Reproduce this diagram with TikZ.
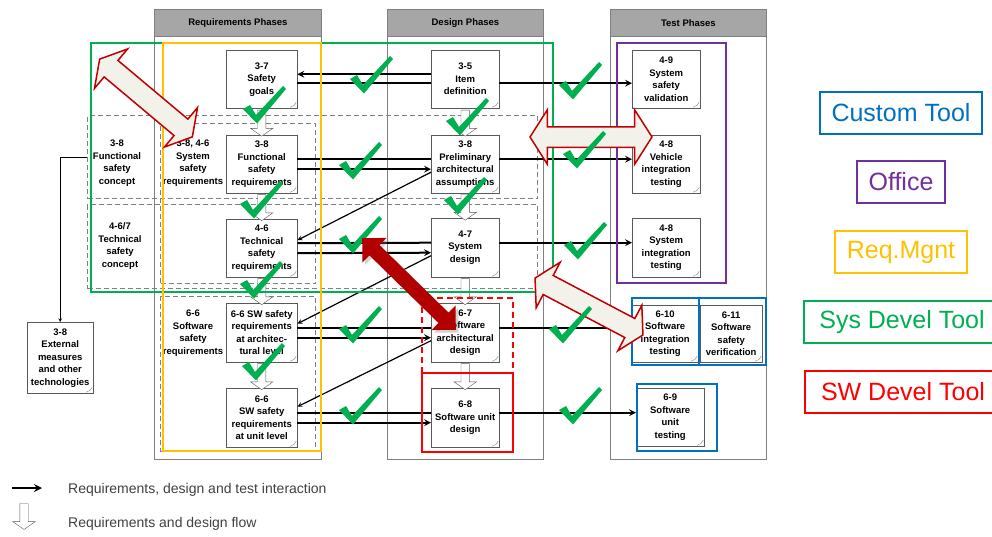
\documentclass[tikz,border=0pt]{standalone}
\usepackage{fontspec}
\setmainfont{Liberation Sans}
\usepackage{tikz}
\usepackage{xcolor}
\usetikzlibrary{calc, shapes.arrows, shadows}
\definecolor{customcolor1}{HTML}{A6A6A6}
\definecolor{customcolor2}{HTML}{00B050}
\definecolor{customcolor3}{HTML}{FFC000}
\definecolor{customcolor4}{HTML}{7030A0}
\definecolor{customcolor5}{HTML}{0070C0}
\definecolor{customcolor6}{HTML}{FF0000}
\definecolor{customcolor7}{HTML}{C00000}
\definecolor{customcolor8}{HTML}{F2F2EA}
\definecolor{customcolor9}{HTML}{B20000}

\tikzset{
  phase/.style = {draw = gray, line width = 0.8pt, fill = white, anchor = north west, minimum width = #1, minimum height = 450},
  phasehead/.style = {draw = gray, line width = 0.8pt, fill = customcolor1, anchor = north west, minimum width = #1, minimum height = 27, font = \fontsize{9.5}{11}\selectfont\bfseries},
  docbox/.style = {draw = gray!70!black, fill = white, anchor = north west, align = center, inner sep = 1pt, minimum width = 71, minimum height = 58, font = \fontsize{9.5}{12.5}\selectfont\bfseries,
    path picture = {\draw [gray, line width = 0.4pt] ([xshift = -7pt, yshift = 1pt]path picture bounding box.south east) .. controls +(3pt, 1pt) and +(-1pt, -3pt) .. ([xshift = -1pt, yshift = 6pt]path picture bounding box.south east);}},
  phasetext/.style = {align = center, font = \fontsize{9.5}{12.5}\selectfont\bfseries},
  dashregion/.style = {draw = gray, line width = 1pt, dash pattern = on 5pt off 3pt, anchor = north west},
  link/.style = {->, > = stealth, line width = 2pt},
  diag/.style = {->, > = stealth, line width = 1.2pt},
  flow/.style = {single arrow, draw = gray!70!black, fill = white, rotate = -90, minimum height = 26, inner xsep = 0pt, inner ysep = 4pt, single arrow head extend = 7pt, single arrow tip angle = 110},
  toolbox/.style = {draw = #1, line width = 2.2pt},
  swap/.style = {double arrow, draw = customcolor7, fill = customcolor8, line width = 1.5pt, inner xsep = 0pt, inner ysep = 10pt, double arrow head extend = 15pt, double arrow tip angle = 120},
  legendbox/.style = {draw = #1, text = #1, line width = 2pt, inner xsep = 12pt, minimum height = 42, font = \fontsize{25}{30}\selectfont},
  legendtext/.style = {anchor = west, inner xsep = 0pt, text = black!75, font = \fontsize{14}{16}\selectfont},
  pics/tick/.style = {code = {\fill [customcolor2] (-13, -13) -- (-6, -17) -- (0, -7) -- (27, -36) -- (30, -33) -- (1, 1.5) -- cycle;}}
}

\begin{document}
\begin{tikzpicture}[x = 1pt, y = -1pt]
        \useasboundingbox (0, 0) rectangle (992, 536);
        % Phase columns
        \node [phase = 167] (reqcol) at (154, 9) {};
        \node [phase = 156] (descol) at (387, 9) {};
        \node [phase = 156] (testcol) at (610, 9) {};
        \node [phasehead = 167] (reqhead) at (154, 9) {Requirements Phases};
        \node [phasehead = 156] (deshead) at (387, 9) {Design Phases};
        \node [phasehead = 156] (testhead) at (610, 9) {Test Phases};
        % Dashed groups
        \node [dashregion, minimum width = 450, minimum height = 83] (fsc) at (87, 115) {};
        \node [dashregion, minimum width = 450, minimum height = 84] (tsc) at (87, 204) {};
        \node [dashregion, minimum width = 155, minimum height = 160] (ssr) at (160, 123) {};
        \node [dashregion, minimum width = 155, minimum height = 155] (swsr) at (160, 296) {};
        \node [phasetext] (fsctext) at (117, 163) {3-8\\Functional\\safety\\concept};
        \node [phasetext] (tsctext) at (120, 246) {4-6/7\\Technical\\safety\\concept};
        \node [phasetext] (ssrtext) at (193, 163) {3-8, 4-6\\System\\safety\\requirements};
        \node [phasetext] (swsrtext) at (193, 333) {6-6\\Software\\safety\\requirements};
        % Nodes
        \node [docbox, minimum width = 66, minimum height = 71] (ext) at (27, 322) {3-8\\External\\measures\\and other\\technologies};
        \node [docbox] (sg) at (226, 50) {3-7\\Safety\\goals};
        \node [docbox] (fsr) at (226, 135) {3-8\\Functional\\safety\\requirements};
        \node [docbox] (tsr) at (226, 219) {4-6\\Technical\\safety\\requirements};
        \node [docbox, minimum height = 59] (swarch) at (226, 303) {6-6 SW safety\\requirements\\at architec-\\tural level};
        \node [docbox, minimum height = 59] (swunit) at (226, 388) {6-6\\SW safety\\requirements\\at unit level};
        \node [docbox, minimum width = 68] (item) at (431, 50) {3-5\\Item\\definition};
        \node [docbox, minimum width = 68] (prelim) at (431, 135) {3-8\\Preliminary\\architectural\\assumptions};
        \node [docbox, minimum width = 68, minimum height = 59] (sysd) at (431, 218) {4-7\\System\\design};
        \node [docbox, minimum width = 68, minimum height = 59] (swad) at (431, 303) {6-7\\Software\\architectural\\design};
        \node [docbox, minimum width = 68, minimum height = 59] (swud) at (431, 388) {6-8\\Software unit\\design};
        \node [docbox, minimum width = 68] (ssv) at (632, 50) {4-9\\System\\safety\\validation};
        \node [docbox, minimum width = 68] (vit) at (632, 135) {4-8\\Vehicle\\integration\\testing};
        \node [docbox, minimum width = 68, minimum height = 59] (sit) at (632, 218) {4-8\\System\\integration\\testing};
        \node [docbox, minimum width = 66, minimum height = 57] (swit) at (632, 305) {6-10\\Software\\integration\\testing};
        \node [docbox, minimum width = 62, minimum height = 57] (swsv) at (700, 305) {6-11\\Software\\safety\\verification};
        \node [docbox, minimum width = 68] (swut) at (636, 388) {6-9\\Software\\unit\\testing};
        % Draw the links
        \draw [link] ([yshift = 5pt]item.west) -- ([yshift = 5pt]sg.east);
        \draw [line width = 2pt] ([yshift = -4pt]sg.east) -- ([yshift = -4pt]item.west);
        \draw [link] ([yshift = -4pt]item.east) -- ([yshift = -4pt]ssv.west);
        \draw [line width = 2pt] ([yshift = 5pt]fsr.east) -- ([yshift = 5pt]prelim.west);
        \draw [link] ([yshift = -5pt]fsr.east) -- ([yshift = -5pt]prelim.west);
        \draw [link] ([yshift = 5pt]prelim.east) -- ([yshift = 5pt]prelim.east -| vit.west);
        \draw [line width = 2pt] ([yshift = 5pt]tsr.east) -- ([yshift = 5pt]sysd.west);
        \draw [link] ([yshift = -5pt]tsr.east) -- ([yshift = -5pt]sysd.west);
        \draw [link] ([yshift = 5pt]sysd.east) -- ([yshift = 5pt]sysd.east -| sit.west);
        \draw [line width = 2pt] ([yshift = 5pt]swarch.east) -- ([yshift = 5pt]swad.west);
        \draw [link] ([yshift = -5pt]swarch.east) -- ([yshift = -5pt]swad.west);
        \draw [link] ([yshift = 5pt]swad.east) -- ([yshift = 5pt]swad.east -| swit.west);
        \draw [line width = 2pt] ([yshift = 5pt]swunit.east) -- ([yshift = 5pt]swud.west);
        \draw [link] ([yshift = -5pt]swunit.east) -- ([yshift = -5pt]swud.west);
        \draw [link] ([yshift = 5pt]swud.east) -- ([yshift = 5pt]swud.east -| swut.west);
        \draw [diag] ([yshift = -8pt]prelim.west) -- ([yshift = 8pt]tsr.east);
        \draw [diag] ([yshift = -8pt]sysd.west) -- ([yshift = 9pt]swarch.east);
        \draw [diag] ([yshift = -8pt]swad.west) -- ([yshift = 11pt]swunit.east);
        \draw [->, > = stealth, line width = 0.6pt] (fsc.west) -| (ext.north);
        % Flow arrows
        \node [flow] (flow1) at ($(sg.south)!0.5!(fsr.north)$) {};
        \node [flow] (flow2) at ($(fsr.south)!0.5!(tsr.north)$) {};
        \node [flow] (flow3) at ($(tsr.south)!0.5!(swarch.north)$) {};
        \node [flow] (flow4) at ($(swarch.south)!0.5!(swunit.north)$) {};
        \node [flow] (flow5) at ($(item.south)!0.5!(prelim.north)$) {};
        \node [flow] (flow6) at ($(prelim.south)!0.5!(sysd.north)$) {};
        \node [flow] (flow7) at ($(sysd.south)!0.5!(swad.north)$) {};
        \node [flow] (flow8) at ($(swad.south)!0.5!(swud.north)$) {};
        % Tool frames
        \draw [toolbox = customcolor2] (91, 43) rectangle (553, 292);
        \draw [toolbox = customcolor3] (163, 43) rectangle (321, 451);
        \draw [toolbox = customcolor4] (617, 43) rectangle (726, 283);
        \draw [toolbox = customcolor5] (632, 298) rectangle (766, 365);
        \draw [toolbox = customcolor5] (699, 298) -- (699, 365);
        \draw [toolbox = customcolor5] (637, 384) rectangle (717, 451);
        \draw [toolbox = customcolor6, dash pattern = on 6pt off 4pt] (422, 373) -- (422, 298) -- (513, 298) -- (513, 373);
        \draw [toolbox = customcolor6] (422, 373) rectangle (513, 452);
        % Exchange arrows
        \node [swap, rotate = -40, minimum height = 121] (swap1) at (146, 98) {};
        \node [swap, minimum height = 122, inner ysep = 9.5pt, double arrow head extend = 17pt, double arrow tip angle = 115] (swap2) at (591, 137) {};
        \node [swap, rotate = -27.8, minimum height = 122] (swap3) at (589, 306.5) {};
        % Checks
        \pic at (256, 122) {tick};
        \pic at (253, 217) {tick};
        \pic at (253, 297) {tick};
        \pic at (255, 379) {tick};
        \pic at (459, 134) {tick};
        \pic at (457, 213) {tick};
        \pic at (363, 92) {tick};
        \pic at (352, 178) {tick};
        \pic at (352, 252) {tick};
        \pic at (352, 342) {tick};
        \pic at (352, 423) {tick};
        \pic at (572, 98) {tick};
        \pic at (576, 167) {tick};
        \pic at (577, 258) {tick};
        \pic at (562, 342) {tick};
        \pic at (572, 423) {tick};
        \node [double arrow, fill = customcolor9, rotate = -44.4, minimum height = 131, inner xsep = 0pt, inner ysep = 7pt, double arrow head extend = 10pt, double arrow tip angle = 90, drop shadow = {opacity = 0.35}] (cross) at (409, 284) {};
        % Tool legend
        \node [legendbox = customcolor5] (custom) at (901, 113) {Custom Tool};
        \node [legendbox = customcolor4] (office) at (901, 182) {Office};
        \node [legendbox = customcolor3] (reqmgnt) at (901, 252) {Req.Mgnt};
        \node [legendbox = customcolor2, anchor = west, minimum width = 196] (sysdev) at (803, 322) {Sys Devel Tool};
        \node [legendbox = customcolor6, anchor = west, minimum width = 196] (swdev) at (804, 392) {SW Devel Tool};
        % Line legend
        \coordinate (lega) at (12, 488);
        \coordinate (legb) at (42, 488);
        \draw [link, line width = 2.5pt] (lega) -- (legb);
        \node [flow] (legflow) at (24, 515) {};
        \node [legendtext] (legtext1) at (68, 490) {Requirements, design and test interaction};
        \node [legendtext] (legtext2) at (68, 524) {Requirements and design flow};
\end{tikzpicture}
\end{document}
